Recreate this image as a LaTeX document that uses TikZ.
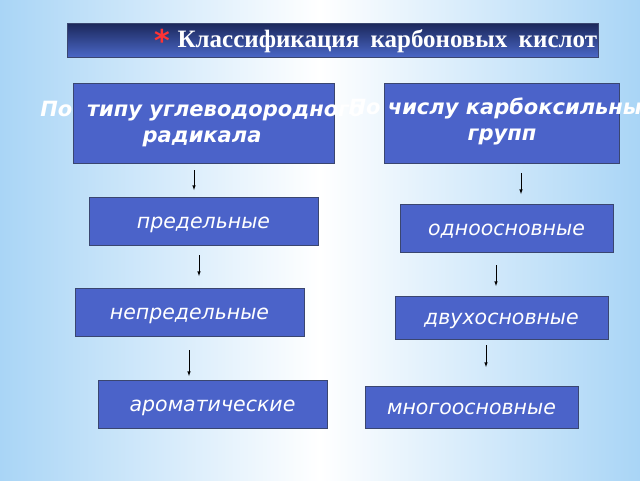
\documentclass[tikz,border=0pt]{standalone}
\usepackage{fontspec}
\setmainfont{DejaVu Sans}
\newfontfamily\titlefont{Liberation Serif}
\usetikzlibrary{positioning}
\definecolor{boxblue}{HTML}{4B63C9}
\definecolor{boxline}{HTML}{3A4670}
\definecolor{skyblue}{HTML}{A9D5F6}
\definecolor{navytop}{HTML}{1B275A}
\definecolor{navybot}{HTML}{4A67C6}
\tikzstyle{box}=[draw=boxline,fill=boxblue,line width=0.8pt,inner sep=0pt]
\tikzstyle{kind}=[box,text=white,text height=14pt,text depth=0pt,font=\fontsize{20.5}{24}\selectfont\itshape]
\tikzstyle{head}=[text=white,align=center,font=\fontsize{21}{26}\selectfont\bfseries\itshape]
\tikzstyle{down}=[->,>=latex,line width=0.6pt]

\begin{document}
\begin{tikzpicture}[x=1pt,y=-1pt]
    \shade[left color=skyblue,right color=skyblue,middle color=white] (0,0) rectangle (640,480);
    \useasboundingbox (0,0) rectangle (640,480);
    % title bar
    \shade[top color=navytop,bottom color=navybot,draw=boxline] (67,23) rectangle (598,57);
    \node[text=red!80!white,font=\fontsize{30}{30}\selectfont\bfseries] (star) at (162,40) {*};
    \node[anchor=west,text=white,font=\titlefont\fontsize{25}{30}\selectfont\bfseries] (title) at (174,41) {Классификация\hspace{0.45em}карбоновых\hspace{0.45em}кислот};
    % headers
    \node[box,minimum width=261,minimum height=80] (typ) at (204,123) {};
    \node[head] (typt) at (202,124) {По\ \ типу углеводородного\\радикала};
    \node[box,minimum width=235,minimum height=80] (num) at (502,123) {};
    \node[head] (numt) at (502,121) {По числу карбоксильных\\групп};
    % left column
    \node[kind,minimum width=229,minimum height=48] (a1) at (203.5,221) {предельные};
    \node[kind,minimum width=229,minimum height=48] (a2) at (189.5,312) {непредельные};
    \node[kind,minimum width=229,minimum height=48] (a3) at (212.5,404) {ароматические};
    % right column
    \node[kind,minimum width=213,minimum height=48] (b1) at (506.5,228) {одноосновные};
    \node[kind,minimum width=213,minimum height=43] (b2) at (501.5,317.5) {двухосновные};
    \node[kind,minimum width=213,minimum height=42] (b3) at (471.5,407) {многоосновные};
    % arrows
    \foreach \n/\x/\ys/\ye in {p1/194/170/190, p2/199/255/276, p3/189/350/376, q1/521/173/194, q2/496/265/286, q3/486/345/367} {
        \coordinate (\n s) at (\x,\ys);
        \coordinate (\n e) at (\x,\ye);
        \draw[down] (\n s) -- (\n e);}
\end{tikzpicture}
\end{document}
